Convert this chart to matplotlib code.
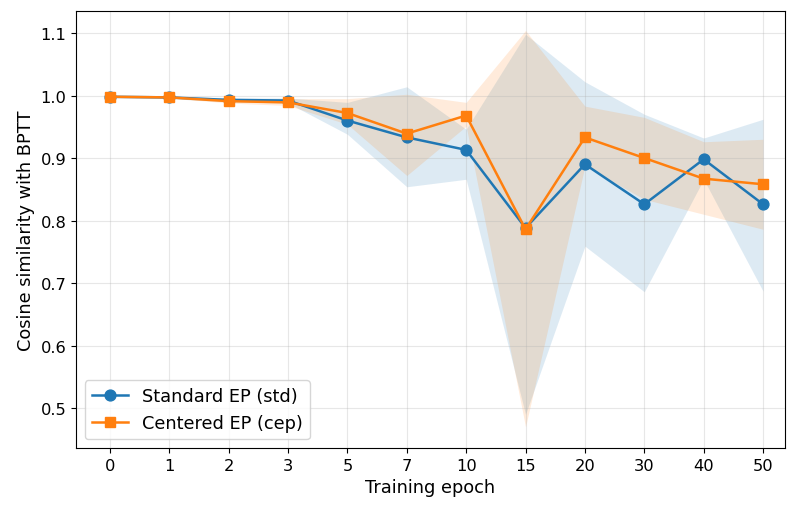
import matplotlib
matplotlib.use("Agg")
import matplotlib.pyplot as plt
import numpy as np

# 训练轮次（类别刻度）
epochs = ['0', '1', '2', '3', '5', '7', '10', '15', '20', '30', '40', '50']

# Standard EP 平均值与上下界
std_mean = [0.998, 0.997, 0.993, 0.992, 0.960, 0.933, 0.913, 0.788, 0.890, 0.826, 0.898, 0.826]
std_upper = [0.999, 0.999, 0.996, 0.996, 0.989, 1.014, 0.946, 1.098, 1.022, 0.970, 0.932, 0.962]
std_lower = [0.997, 0.995, 0.990, 0.988, 0.938, 0.854, 0.866, 0.490, 0.759, 0.686, 0.866, 0.687]

# Centered EP 平均值与上下界
cep_mean = [0.998, 0.997, 0.991, 0.989, 0.972, 0.939, 0.968, 0.786, 0.933, 0.900, 0.867, 0.858]
cep_upper = [0.999, 0.998, 0.994, 0.995, 0.995, 1.002, 0.989, 1.104, 0.983, 0.965, 0.926, 0.930]
cep_lower = [0.997, 0.996, 0.988, 0.984, 0.954, 0.872, 0.951, 0.470, 0.887, 0.834, 0.810, 0.786]

plt.rcParams['font.size'] = 12.8
plt.rcParams['xtick.labelsize'] = 11.7
plt.rcParams['ytick.labelsize'] = 11.7

fig, ax = plt.subplots(figsize=(7.87, 5.06), dpi=100)
x = np.arange(len(epochs))

ax.fill_between(x, std_lower, std_upper, color='#1f77b4', alpha=0.15, linewidth=0)
ax.fill_between(x, cep_lower, cep_upper, color='#ff7f0e', alpha=0.15, linewidth=0)
ax.plot(x, std_mean, marker='o', color='#1f77b4', linewidth=1.8, markersize=7.8, label='Standard EP (std)')
ax.plot(x, cep_mean, marker='s', color='#ff7f0e', linewidth=1.8, markersize=7.8, label='Centered EP (cep)')

ax.set_xticks(x)
ax.set_xticklabels(epochs)
ax.set_xlim(-0.57, 11.37)
ax.set_ylim(0.436, 1.135)
ax.set_xlabel('Training epoch')
ax.set_ylabel('Cosine similarity with BPTT')
ax.grid(True, alpha=0.3)
ax.legend(loc='lower left')

plt.subplots_adjust(left=0.0966, right=0.9975, top=0.976, bottom=0.1126)
plt.savefig('out.png')
